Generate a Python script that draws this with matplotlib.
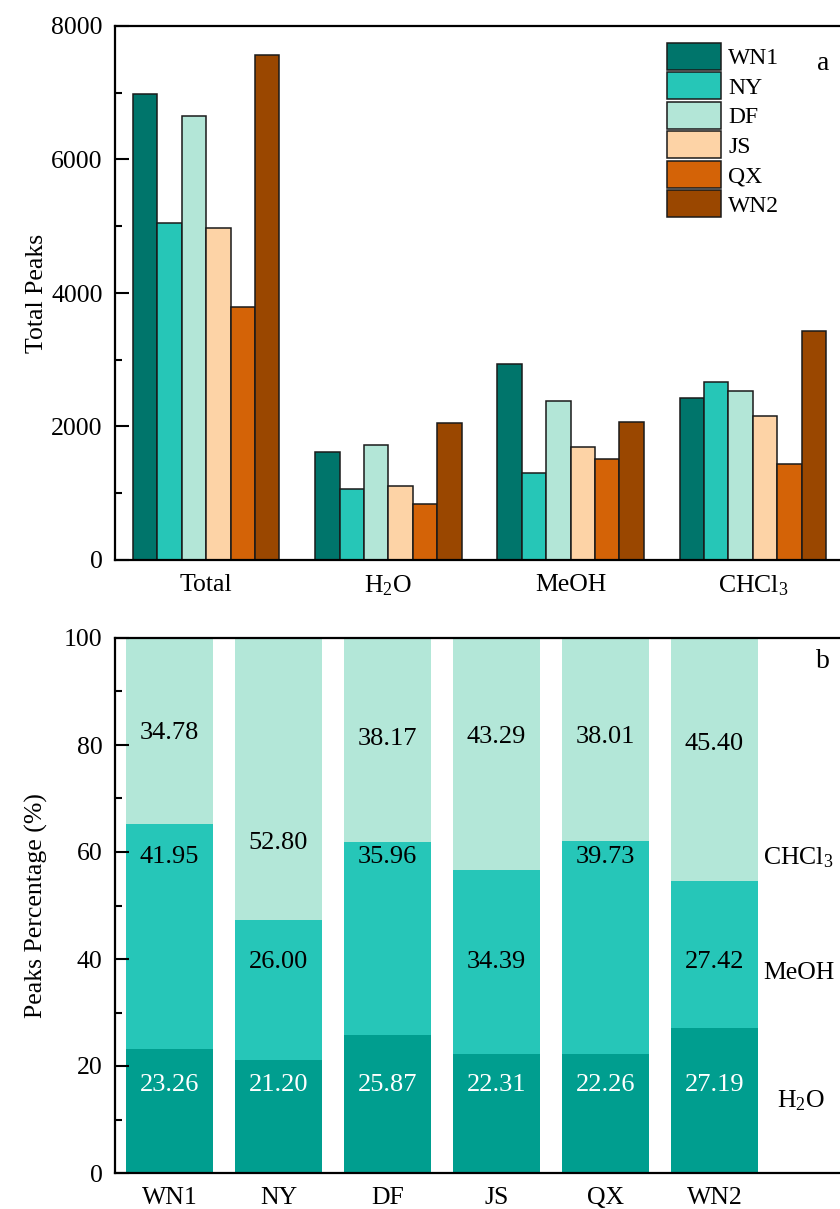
import numpy as np
import matplotlib
matplotlib.use('Agg')
import matplotlib.pyplot as plt
from matplotlib.ticker import MultipleLocator

plt.rcParams['font.family'] = ['Liberation Serif', 'DejaVu Serif']
plt.rcParams['mathtext.fontset'] = 'custom'
plt.rcParams['mathtext.rm'] = 'Liberation Serif'
plt.rcParams['mathtext.it'] = 'Liberation Serif:italic'
plt.rcParams['mathtext.default'] = 'regular'

# panel a data
groups = ['Total', 'H$_2$O', 'MeOH', 'CHCl$_3$']
sites = ['WN1', 'NY', 'DF', 'JS', 'QX', 'WN2']
wn1 = [6980, 1620, 2930, 2420]
ny = [5050, 1070, 1310, 2670]
df = [6650, 1720, 2380, 2530]
js = [4970, 1110, 1700, 2150]
qx = [3790, 840, 1510, 1440]
wn2 = [7570, 2050, 2070, 3430]

# panel b data (percentages)
h2o_pct = [23.26, 21.20, 25.87, 22.31, 22.26, 27.19]
meoh_pct = [41.95, 26.00, 35.96, 34.39, 39.73, 27.42]
chcl3_pct = [34.78, 52.80, 38.17, 43.29, 38.01, 45.40]

site_colors = ['#00756b', '#26c6b7', '#b3e6d7', '#fdd3a6', '#d46307', '#9a4700']
stack_colors = ['#009e8f', '#26c6b8', '#b3e7d8']

fs = 18.5
fig = plt.figure(figsize=(8.4, 12.09), dpi=100)
W, H = 840.0, 1209.0

# ---------- panel a ----------
ax1 = fig.add_axes([115 / W, 1 - 560 / H, 729 / W, 534 / H])
series = [wn1, ny, df, js, qx, wn2]
x = np.arange(len(groups))
bw = 0.134
for i, (vals, c) in enumerate(zip(series, site_colors)):
    ax1.bar(x + (i - 2.5) * bw, vals, bw, color=c, edgecolor='#1a1a1a',
            linewidth=1.1, label=sites[i])
ax1.set_xlim(-0.5, 3.5)
ax1.set_ylim(0, 8000)
ax1.set_xticks(x)
ax1.set_xticklabels(groups)
ax1.yaxis.set_major_locator(MultipleLocator(2000))
ax1.yaxis.set_minor_locator(MultipleLocator(1000))
ax1.set_ylabel('Total Peaks', fontsize=fs)
ax1.yaxis.set_label_coords(-0.092, 0.5)

leg = ax1.legend(loc='upper left', bbox_to_anchor=(667 / W, 1 - 43 / H),
                 bbox_transform=fig.transFigure, frameon=False, fontsize=17,
                 handlelength=2.29, handleheight=1.38, labelspacing=0.106,
                 handletextpad=0.3, borderpad=0, borderaxespad=0)
fig.text(823 / W, 1 - 63 / H, 'a', fontsize=20, ha='center', va='center')

# ---------- panel b ----------
ax2 = fig.add_axes([115 / W, 1 - 1173 / H, 730.3 / W, 535 / H])
xb = np.arange(len(sites))
h2o = np.array(h2o_pct)
meoh = np.array(meoh_pct)
chcl3 = np.array(chcl3_pct)
ax2.bar(xb, h2o, 0.805, color=stack_colors[0])
ax2.bar(xb, meoh, 0.805, bottom=h2o, color=stack_colors[1])
ax2.bar(xb, chcl3, 0.805, bottom=h2o + meoh, color=stack_colors[2])
ax2.set_xlim(-0.5, 6.2)
ax2.set_ylim(0, 100)
ax2.set_xticks(xb)
ax2.set_xticklabels(sites)
ax2.yaxis.set_major_locator(MultipleLocator(20))
ax2.yaxis.set_minor_locator(MultipleLocator(10))
ax2.set_ylabel('Peaks Percentage (%)', fontsize=fs)
ax2.yaxis.set_label_coords(-0.092, 0.5)

# value labels (heights)
chcl3_ty = [82.3, 61.7, 81.1, 81.5, 81.5, 80.2]
meoh_ty = [59.1, 39.4, 59.1, 39.4, 59.1, 39.4]
for i in range(len(sites)):
    ax2.text(xb[i], chcl3_ty[i], '%.2f' % chcl3[i], ha='center', va='center',
             fontsize=19)
    ax2.text(xb[i], meoh_ty[i], '%.2f' % meoh[i], ha='center', va='center',
             fontsize=19)
    ax2.text(xb[i], 16.4, '%.2f' % h2o[i], ha='center', va='center',
             fontsize=19, color='white')

ax2.text(5.77, 58.9, 'CHCl$_3$', ha='center', va='center', fontsize=fs)
ax2.text(5.77, 37.4, 'MeOH', ha='center', va='center', fontsize=fs)
ax2.text(5.79, 13.6, 'H$_2$O', ha='center', va='center', fontsize=fs)
fig.text(823 / W, 1 - 662 / H, 'b', fontsize=20, ha='center', va='center')

for ax in (ax1, ax2):
    for s in ax.spines.values():
        s.set_linewidth(1.6)
    ax.tick_params(axis='y', which='major', direction='in', length=10,
                   width=1.5, labelsize=fs, pad=9)
    ax.tick_params(axis='y', which='minor', direction='in', length=5,
                   width=1.5)
    ax.tick_params(axis='x', which='both', length=0, labelsize=fs, pad=10)

fig.savefig('out.png', dpi=100)
